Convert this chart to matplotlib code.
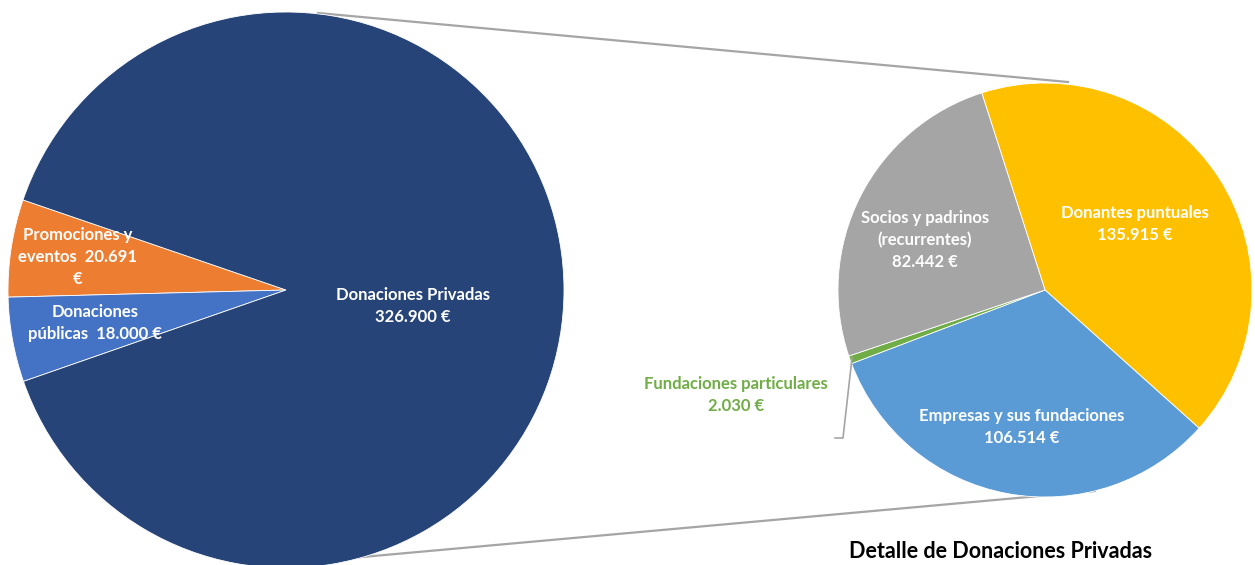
import matplotlib.pyplot as plt

# datos
main_labels = ["Promociones y\neventos  {}", "Donaciones\npúblicas  {}", "Donaciones Privadas\n{}"]
main_values = [20691, 18000, 326900]
main_colors = ["#ED7D31", "#4472C4", "#264478"]

detail_labels = ["Donantes puntuales\n{}", "Empresas y sus fundaciones\n{}",
                 "Fundaciones particulares\n{}", "Socios y padrinos\n(recurrentes)\n{}"]
detail_values = [135915, 106514, 2030, 82442]
detail_colors = ["#FFC000", "#5B9BD5", "#70AD47", "#A5A5A5"]

title = "Detalle de Donaciones Privadas"

W, H = 1255, 565


def fmt(v):
    return f"{v:,}".replace(",", ".") + " €"


def py(y):
    # fila en pixeles (desde arriba) -> y del eje
    return H - y


fig = plt.figure(figsize=(12.55, 5.65), dpi=100)
ax = fig.add_axes([0, 0, 1, 1])

ax.pie(main_values, colors=main_colors, startangle=161.1, counterclock=True,
       center=(286, py(290)), radius=278,
       wedgeprops=dict(edgecolor="white", linewidth=0.6))
ax.pie(detail_values, colors=detail_colors, startangle=107.8, counterclock=False,
       center=(1045, py(290)), radius=207,
       wedgeprops=dict(edgecolor="white", linewidth=0.6))

ax.set_xlim(0, W)
ax.set_ylim(0, H)
ax.set_aspect("equal")
ax.axis("off")

# lineas de conexion
ax.plot([318, 1068], [py(13), py(82)], color="#A5A5A5", lw=1.6, zorder=0)
ax.plot([318, 1095], [py(561), py(491)], color="#A5A5A5", lw=1.6, zorder=0)

font = dict(family="Lato", fontweight="bold", fontsize=12, ha="center",
            va="center", linespacing=1.45)

# etiquetas pie principal
promo = main_labels[0].format("20.691\n€")
ax.text(78, py(257), promo, color="white", **font)
ax.text(95, py(323), main_labels[1].format(fmt(main_values[1])), color="white", **font)
ax.text(413, py(306), main_labels[2].format(fmt(main_values[2])), color="white", **font)

# etiquetas detalle
ax.text(1135, py(224), detail_labels[0].format(fmt(detail_values[0])), color="white", **font)
ax.text(1022, py(427), detail_labels[1].format(fmt(detail_values[1])), color="white", **font)
ax.text(736, py(395), detail_labels[2].format(fmt(detail_values[2])), color="#70AD47", **font)
ax.text(925, py(240), detail_labels[3].format(fmt(detail_values[3])), color="white", **font)

# linea guia de Fundaciones particulares
ax.plot([852, 843, 835], [py(358), py(438), py(438)], color="#A5A5A5", lw=1.2)

ax.text(1001, py(552), title, family="Lato", fontweight="bold", fontsize=15.5,
        ha="center", va="center", color="black")

fig.savefig("out.png", dpi=100)
